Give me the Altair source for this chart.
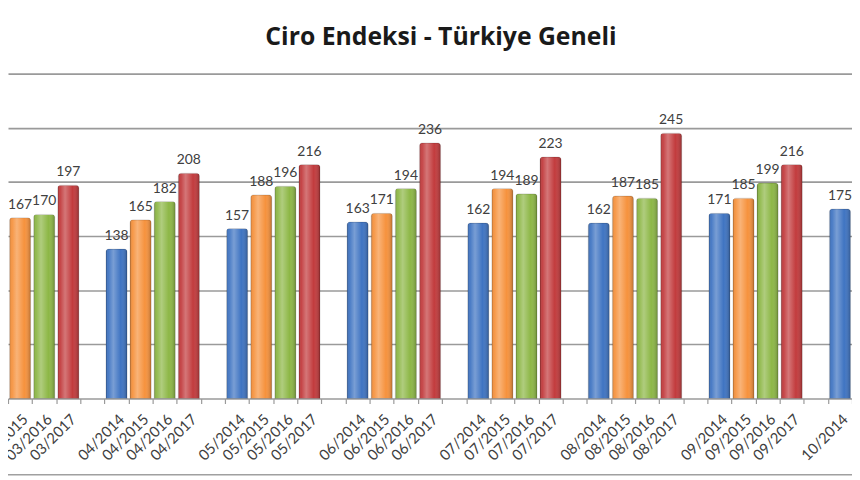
import altair as alt
import pandas as pd

# ---- data ----
months = ["03", "04", "05", "06", "07", "08", "09", "10"]
years = ["2014", "2015", "2016", "2017"]
values = {
    "03": [None, 167, 170, 197],
    "04": [138, 165, 182, 208],
    "05": [157, 188, 196, 216],
    "06": [163, 171, 194, 236],
    "07": [162, 194, 189, 223],
    "08": [162, 187, 185, 245],
    "09": [171, 185, 199, 216],
    "10": [175, None, None, None],
}
colors = ["#3F74C2", "#F6923D", "#8DB746", "#C23B3D"]
title_text = "Ciro Endeksi - Türkiye Geneli"

rows = []
domain = []
for i, m in enumerate(months):
    if i > 0:
        domain.append("_" + m)  # empty slot between month groups
    for y, v in zip(years, values[m]):
        if v is None:
            continue
        lab = f"{m}/{y}"
        domain.append(lab)
        rows.append({"label": lab, "year": y, "value": v})
df = pd.DataFrame(rows)

W, H = 852, 328
font = "Lato"

x_enc = alt.X(
    "label:N",
    scale=alt.Scale(domain=domain, paddingInner=0, paddingOuter=0),
    sort=domain,
    axis=alt.Axis(
        title=None,
        labelAngle=-45,
        labelExpr="indexof(datum.label, '_') == 0 ? '' : datum.label",
        labelFont=font,
        labelFontSize=15,
        labelColor="#404040",
        labelPadding=8,
        tickBand="extent",
        tickColor="#9a9a9a",
        tickSize=5,
        tickWidth=1.2,
        domain=False,
        grid=False,
        labelOverlap=False,
    ),
)
y_enc = alt.Y(
    "value:Q",
    scale=alt.Scale(domain=[0, 300], nice=False),
    axis=alt.Axis(
        title=None,
        values=[0, 50, 100, 150, 200, 250, 300],
        labels=False,
        ticks=False,
        domain=False,
        grid=True,
        gridColor="#9a9a9a",
        gridWidth=1.6,
    ),
)

base = alt.Chart(df)

bars = base.mark_bar(
    width=alt.RelativeBandSize(0.88),
    cornerRadiusTopLeft=3,
    cornerRadiusTopRight=3,
).encode(
    x=x_enc,
    y=y_enc,
    color=alt.Color(
        "year:N",
        scale=alt.Scale(domain=years, range=colors),
        legend=None,
    ),
)

shine = base.mark_bar(
    width=alt.RelativeBandSize(0.88),
    cornerRadiusTopLeft=3,
    cornerRadiusTopRight=3,
    fill=alt.Gradient(
        gradient="linear",
        x1=0, x2=1, y1=0, y2=0,
        stops=[
            alt.GradientStop(offset=0, color="rgba(0,0,0,0.22)"),
            alt.GradientStop(offset=0.12, color="rgba(255,255,255,0.05)"),
            alt.GradientStop(offset=0.35, color="rgba(255,255,255,0.30)"),
            alt.GradientStop(offset=0.7, color="rgba(255,255,255,0.0)"),
            alt.GradientStop(offset=1, color="rgba(0,0,0,0.25)"),
        ],
    ),
    stroke="rgba(0,0,0,0.15)",
    strokeWidth=0.8,
).encode(x=alt.X("label:N", sort=domain), y="value:Q")

labels = base.mark_text(
    baseline="bottom",
    dy=-6,
    font=font,
    fontSize=14,
    color="#404040",
).encode(x=alt.X("label:N", sort=domain), y="value:Q", text="value:Q")

# outer chart-area frame line at the bottom
frame = alt.Chart(pd.DataFrame({"k": [0]})).mark_rule(
    color="#a0a0a0", strokeWidth=1.6
).encode(x=alt.value(0), x2=alt.value(W), y=alt.value(H + 77))

chart = (
    alt.layer(bars, shine, labels, frame)
    .properties(
        width=W,
        height=H,
        view=alt.ViewBackground(stroke="transparent", strokeWidth=0, strokeOpacity=0),
        title=alt.TitleParams(
            title_text,
            font="Open Sans",
            fontSize=25,
            fontWeight="bold",
            color="#1a1a1a",
            anchor="middle",
            offset=24,
            dx=11,
        ),
        autosize=alt.AutoSizeParams(type="none"),
        padding={"left": 0, "right": 0, "top": 64, "bottom": 80},
    )
    .configure_view(stroke="transparent", strokeWidth=0, strokeOpacity=0)
    .configure_axis(domain=False)
    .configure(background="white")
)

chart.save("out.html", embed_options={"renderer": "svg", "actions": False})
